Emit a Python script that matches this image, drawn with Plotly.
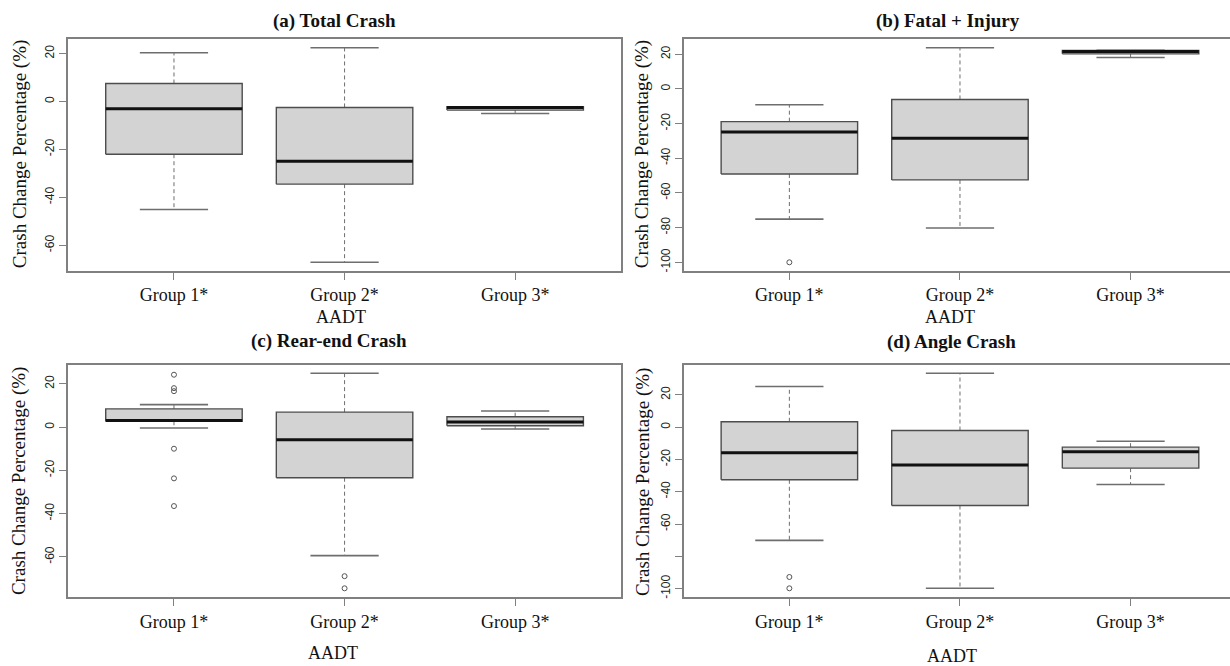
import plotly.graph_objects as go

# ---- data: box statistics per AADT group (percent change in crashes) ----
groups = ["Group 1*", "Group 2*", "Group 3*"]
group_pos = [1, 2, 3]

total_lower = [-45.1, -67.1, -5.0]
total_q1 = [-22.0, -34.5, -3.6]
total_median = [-3.0, -24.9, -2.5]
total_q3 = [7.5, -2.5, -2.2]
total_upper = [20.3, 22.4, -2.2]
total_outliers = [[], [], []]

fi_lower = [-75.1, -80.2, 18.1]
fi_q1 = [-49.1, -52.5, 20.2]
fi_median = [-24.8, -28.5, 21.6]
fi_q3 = [-18.9, -6.1, 22.2]
fi_upper = [-9.2, 23.7, 22.2]
fi_outliers = [[-100.0], [], []]

rear_lower = [-0.4, -59.4, -0.9]
rear_q1 = [2.7, -23.4, 0.6]
rear_median = [3.1, -5.8, 2.3]
rear_q3 = [8.4, 6.9, 4.8]
rear_upper = [10.4, 24.9, 7.4]
rear_outliers = [[24.2, 18.0, 16.6, -10.0, -23.7, -36.5], [-68.9, -74.5], []]

angle_lower = [-70.1, -99.8, -35.5]
angle_q1 = [-32.6, -48.5, -25.4]
angle_median = [-15.9, -23.5, -15.3]
angle_q3 = [3.3, -2.1, -12.4]
angle_upper = [25.2, 33.4, -8.7]
angle_outliers = [[-92.8, -99.8], [], []]

panels = [
    dict(title="(a) Total Crash", lower=total_lower, q1=total_q1, med=total_median,
         q3=total_q3, upper=total_upper, out=total_outliers,
         ticks=[20, 0, -20, -40, -60], ticktext=["20", "0", "-20", "-40", "-60"]),
    dict(title="(b) Fatal + Injury", lower=fi_lower, q1=fi_q1, med=fi_median,
         q3=fi_q3, upper=fi_upper, out=fi_outliers,
         ticks=[20, 0, -20, -40, -60, -80, -100],
         ticktext=["20", "0", "-20", "-40", "-60", "-80", "-100"]),
    dict(title="(c) Rear-end Crash", lower=rear_lower, q1=rear_q1, med=rear_median,
         q3=rear_q3, upper=rear_upper, out=rear_outliers,
         ticks=[20, 0, -20, -40, -60], ticktext=["20", "0", "-20", "-40", "-60"]),
    dict(title="(d) Angle Crash", lower=angle_lower, q1=angle_q1, med=angle_median,
         q3=angle_q3, upper=angle_upper, out=angle_outliers,
         ticks=[20, 0, -20, -40, -60, -80, -100],
         ticktext=["20", "0", "-20", "-40", "-60", "", "-100"]),
]

W, H = 1230, 666

# plot-area placement in pixels: (left, right, top, bottom)
frames = [
    (68.2, 620.5, 39.3, 271.7),
    (683.6, 1230.0, 39.3, 271.7),
    (68.2, 620.5, 365.7, 598.7),
    (683.6, 1230.0, 365.7, 598.7),
]
unit_px = 170.6  # pixels per category unit on the x axis

# label placement in pixels: title, y-title, x-title
title_xy = [(334.5, 21.5), (948, 21.5), (329, 342), (951, 343)]
ytitle_xy = [(19.6, 155), (641.7, 155), (18.5, 483), (642.5, 484)]
xtitle_xy = [(341, 318), (950, 318), (333, 655), (951.5, 658)]

SERIF = "Liberation Serif"
SANS = "Liberation Sans"
FRAME = "#808080"
BOX_EDGE = "#4d4d4d"
WHISK = "#6e6e6e"
FILL = "#d3d3d3"

HALF = 0.4     # half box width
CAP = 0.2      # half staple width

fig = go.Figure()


def seg_lists(xs_pairs, ys_pairs):
    x, y = [], []
    for (x0, x1), (y0, y1) in zip(xs_pairs, ys_pairs):
        x += [x0, x1, None]
        y += [y0, y1, None]
    return x, y


for k, p in enumerate(panels):
    xa = "x" if k == 0 else f"x{k + 1}"
    ya = "y" if k == 0 else f"y{k + 1}"

    # dashed whiskers
    wx, wy = seg_lists(
        [(g, g) for g in group_pos] * 2,
        [(q3, up) for q3, up in zip(p["q3"], p["upper"])]
        + [(q1, lo) for q1, lo in zip(p["q1"], p["lower"])],
    )
    fig.add_trace(go.Scatter(x=wx, y=wy, mode="lines", xaxis=xa, yaxis=ya,
                             line=dict(color=WHISK, width=1, dash="4px,3px"),
                             hoverinfo="skip", showlegend=False))

    # staples
    cx, cy = seg_lists(
        [(g - CAP, g + CAP) for g in group_pos] * 2,
        [(v, v) for v in p["upper"]] + [(v, v) for v in p["lower"]],
    )
    fig.add_trace(go.Scatter(x=cx, y=cy, mode="lines", xaxis=xa, yaxis=ya,
                             line=dict(color=WHISK, width=1.6),
                             hoverinfo="skip", showlegend=False))

    # boxes
    for g, q1, q3 in zip(group_pos, p["q1"], p["q3"]):
        fig.add_trace(go.Scatter(
            x=[g - HALF, g + HALF, g + HALF, g - HALF, g - HALF],
            y=[q1, q1, q3, q3, q1],
            mode="lines", fill="toself", fillcolor=FILL,
            line=dict(color=BOX_EDGE, width=1.4),
            xaxis=xa, yaxis=ya, hoverinfo="skip", showlegend=False))

    # medians
    mx, my = seg_lists([(g - HALF, g + HALF) for g in group_pos],
                       [(m, m) for m in p["med"]])
    fig.add_trace(go.Scatter(x=mx, y=my, mode="lines", xaxis=xa, yaxis=ya,
                             line=dict(color="#111111", width=3),
                             hoverinfo="skip", showlegend=False))

    # outliers
    ox, oy = [], []
    for g, vals in zip(group_pos, p["out"]):
        ox += [g] * len(vals)
        oy += list(vals)
    if ox:
        fig.add_trace(go.Scatter(x=ox, y=oy, mode="markers", xaxis=xa, yaxis=ya,
                                 marker=dict(symbol="circle-open", size=5,
                                             color="#555555", line=dict(width=1)),
                                 hoverinfo="skip", showlegend=False))

    # axis ranges: data extent padded by 4 %
    vals = p["lower"] + p["upper"] + [v for o in p["out"] for v in o]
    lo, hi = min(vals), max(vals)
    pad = 0.04 * (hi - lo)
    left, right, top, bottom = frames[k]
    x0 = 0.38
    x1 = x0 + (right - left) / unit_px

    layout_x = dict(
        domain=[left / W, right / W], range=[x0, x1],
        tickmode="array", tickvals=group_pos, ticktext=groups,
        ticks="outside", ticklen=7, tickcolor=FRAME, tickwidth=1.2,
        showline=True, linecolor=FRAME, linewidth=2, mirror=True,
        showgrid=False, zeroline=False,
        tickfont=dict(family=SERIF, size=18, color="#111111"),
        anchor=ya,
    )
    layout_y = dict(
        domain=[1 - bottom / H, 1 - top / H], range=[lo - pad, hi + pad],
        tickmode="array", tickvals=p["ticks"], ticktext=p["ticktext"],
        tickangle=-90, ticks="outside", ticklen=7, tickcolor=FRAME, tickwidth=1.2,
        showline=True, linecolor=FRAME, linewidth=2,
        mirror=(k in (0, 2)),
        showgrid=False, zeroline=False,
        tickfont=dict(family=SANS, size=12, color="#222222"),
        anchor=xa,
    )
    fig.layout[("xaxis" if k == 0 else f"xaxis{k + 1}")] = layout_x
    fig.layout[("yaxis" if k == 0 else f"yaxis{k + 1}")] = layout_y

    tx, ty = title_xy[k]
    fig.add_annotation(x=tx / W, y=1 - ty / H, xref="paper", yref="paper",
                       text=f"<b>{p['title']}</b>", showarrow=False,
                       xanchor="center", yanchor="middle",
                       font=dict(family=SERIF, size=19, color="#111111"))
    yx, yy = ytitle_xy[k]
    fig.add_annotation(x=yx / W, y=1 - yy / H, xref="paper", yref="paper",
                       text="Crash Change Percentage (%)", textangle=-90,
                       showarrow=False, xanchor="center", yanchor="middle",
                       font=dict(family=SERIF, size=19, color="#111111"))
    ax_, ay_ = xtitle_xy[k]
    fig.add_annotation(x=ax_ / W, y=1 - ay_ / H, xref="paper", yref="paper",
                       text="AADT", showarrow=False,
                       xanchor="center", yanchor="middle",
                       font=dict(family=SERIF, size=18, color="#111111"))

fig.update_layout(
    width=W, height=H,
    margin=dict(l=0, r=0, t=0, b=0),
    paper_bgcolor="white", plot_bgcolor="white",
    showlegend=False,
)

fig.write_html("out.html")
